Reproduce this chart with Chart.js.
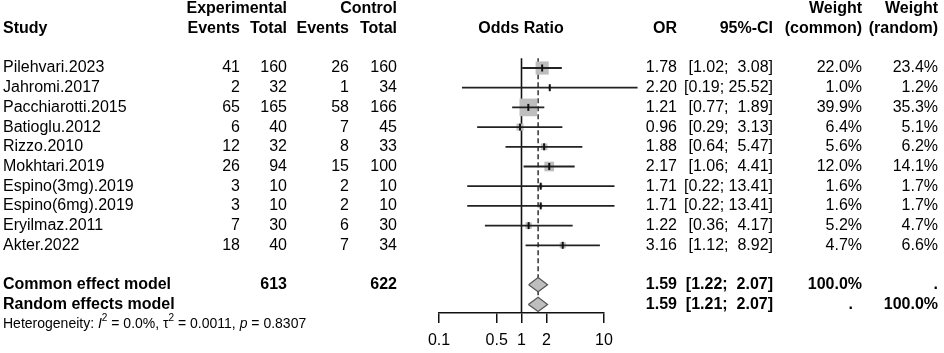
<!DOCTYPE html>
<html>
<head>
<meta charset="utf-8">
<script src="https://cdn.jsdelivr.net/npm/chart.js@4.4.1/dist/chart.umd.min.js"></script>
<style>
  html, body { margin: 0; padding: 0; background: #fff; }
  #wrap { width: 944px; height: 353px; }
</style>
</head>
<body>
<div id="wrap"><canvas id="forest" width="944" height="353"></canvas></div>
<script>
const studies = ["Pilehvari.2023", "Jahromi.2017", "Pacchiarotti.2015", "Batioglu.2012", "Rizzo.2010",
  "Mokhtari.2019", "Espino(3mg).2019", "Espino(6mg).2019", "Eryilmaz.2011", "Akter.2022"];
const expEvents = [41, 2, 65, 6, 12, 26, 3, 3, 7, 18];
const expTotal = [160, 32, 165, 40, 32, 94, 10, 10, 30, 40];
const ctrlEvents = [26, 1, 58, 7, 8, 15, 2, 2, 6, 7];
const ctrlTotal = [160, 34, 166, 45, 33, 100, 10, 10, 30, 34];
const oddsRatio = [1.78, 2.20, 1.21, 0.96, 1.88, 2.17, 1.71, 1.71, 1.22, 3.16];
const ciLow = [1.02, 0.19, 0.77, 0.29, 0.64, 1.06, 0.22, 0.22, 0.36, 1.12];
const ciHigh = [3.08, 25.52, 1.89, 3.13, 5.47, 4.41, 13.41, 13.41, 4.17, 8.92];
const weightCommon = [22.0, 1.0, 39.9, 6.4, 5.6, 12.0, 1.6, 1.6, 5.2, 4.7];
const weightRandom = [23.4, 1.2, 35.3, 5.1, 6.2, 14.1, 1.7, 1.7, 4.7, 6.6];

const modelNames = ["Common effect model", "Random effects model"];
const modelOR = [1.59, 1.59];
const modelLow = [1.22, 1.21];
const modelHigh = [2.07, 2.07];
const totalsExp = 613;
const totalsCtrl = 622;
const tickValues = [0.1, 0.5, 1, 2, 10];

// row positions (y scale units, one per line of the table)
const studyRows = studies.map((s, i) => i);
const modelRows = [11, 12];
const headerRows = [-3, -2];
const hetRow = 13;

// first study row at 68px, rows 19.7px apart, x axis line at 313px
const ROW0 = 68;
const ROWH = 19.7;
const AXIS_Y = 313;
const axisRow = (AXIS_Y - ROW0) / ROWH;

const FONT = "'Liberation Sans', Arial, sans-serif";
const grey = "#bebebe";
const lineCol = "#222";

// CI lines, one dataset per study
var datasets = [];
studies.forEach((s, i) => {
  datasets.push({
    type: "line",
    data: [{ x: ciLow[i], y: studyRows[i] }, { x: ciHigh[i], y: studyRows[i] }],
    borderColor: lineCol,
    borderWidth: 1.8,
    pointRadius: 0,
    clip: false,
    order: 2,
  });
});

// weight squares
datasets.push({
  type: "scatter",
  data: studies.map((s, i) => ({ x: oddsRatio[i], y: studyRows[i] })),
  pointStyle: "rect",
  pointRadius: weightCommon.map((w) => (2.8 * Math.sqrt(w)) / Math.SQRT2),
  backgroundColor: grey,
  borderWidth: 0,
  clip: false,
  order: 3,
});

// point estimate marks
datasets.push({
  type: "scatter",
  data: studies.map((s, i) => ({ x: oddsRatio[i], y: studyRows[i] })),
  pointStyle: "line",
  rotation: 90,
  pointRadius: 3.5,
  borderColor: "#111",
  borderWidth: 2,
  clip: false,
  order: 1,
});

// line of no effect and summary estimate line
datasets.push({
  type: "line",
  data: [{ x: 1, y: -0.5 }, { x: 1, y: axisRow }],
  borderColor: "#111",
  borderWidth: 1.6,
  pointRadius: 0,
  clip: false,
  order: 4,
});
datasets.push({
  type: "line",
  data: [{ x: modelOR[0], y: -0.5 }, { x: modelOR[0], y: 11.65 }],
  borderColor: "#222",
  borderWidth: 1.4,
  borderDash: [5, 3],
  pointRadius: 0,
  clip: false,
  order: 4,
});

// summary diamonds
modelNames.forEach((m, k) => {
  const r = modelRows[k];
  datasets.push({
    type: "line",
    data: [
      { x: modelLow[k], y: r },
      { x: modelOR[k], y: r - 0.36 },
      { x: modelHigh[k], y: r },
      { x: modelOR[k], y: r + 0.36 },
      { x: modelLow[k], y: r },
    ],
    borderColor: "#555",
    backgroundColor: grey,
    borderWidth: 1.2,
    fill: "shape",
    tension: 0,
    pointRadius: 0,
    clip: false,
    order: 0,
  });
});

function fmtPct(v) {
  return v.toFixed(1) + "%";
}

// R style interval text, upper bound padded to a common width
function fmtCI(lo, hi) {
  return "[" + lo.toFixed(2) + "; " + hi.toFixed(2).padStart(5, " ") + "]";
}

const tablePlugin = {
  id: "forestTable",
  afterDraw(chart) {
    const ctx = chart.ctx;
    const ys = chart.scales.y;
    const rowY = (r) => ys.getPixelForValue(r);
    ctx.save();
    ctx.fillStyle = "#000";
    ctx.textBaseline = "middle";

    function txt(s, x, r, align, bold) {
      ctx.font = (bold ? "bold " : "") + "16px " + FONT;
      ctx.textAlign = align;
      ctx.fillText(s, x, rowY(r));
    }

    // headers
    txt("Experimental", 287, headerRows[0], "right", true);
    txt("Control", 397, headerRows[0], "right", true);
    txt("Weight", 862, headerRows[0], "right", true);
    txt("Weight", 938, headerRows[0], "right", true);
    txt("Study", 3, headerRows[1], "left", true);
    txt("Events", 240, headerRows[1], "right", true);
    txt("Total", 287, headerRows[1], "right", true);
    txt("Events", 349, headerRows[1], "right", true);
    txt("Total", 397, headerRows[1], "right", true);
    txt("Odds Ratio", 521, headerRows[1], "center", true);
    txt("OR", 677, headerRows[1], "right", true);
    txt("95%-CI", 773, headerRows[1], "right", true);
    txt("(common)", 862, headerRows[1], "right", true);
    txt("(random)", 938, headerRows[1], "right", true);

    // studies
    studies.forEach((s, i) => {
      const r = studyRows[i];
      txt(s, 3, r, "left");
      txt(String(expEvents[i]), 240, r, "right");
      txt(String(expTotal[i]), 287, r, "right");
      txt(String(ctrlEvents[i]), 349, r, "right");
      txt(String(ctrlTotal[i]), 397, r, "right");
      txt(oddsRatio[i].toFixed(2), 677, r, "right");
      txt(fmtCI(ciLow[i], ciHigh[i]), 773, r, "right");
      txt(fmtPct(weightCommon[i]), 862, r, "right");
      txt(fmtPct(weightRandom[i]), 938, r, "right");
    });

    // summary rows
    modelNames.forEach((m, k) => {
      const r = modelRows[k];
      txt(m, 3, r, "left", true);
      txt(modelOR[k].toFixed(2), 677, r, "right", true);
      txt(fmtCI(modelLow[k], modelHigh[k]), 773, r, "right", true);
    });
    txt(String(totalsExp), 287, modelRows[0], "right", true);
    txt(String(totalsCtrl), 397, modelRows[0], "right", true);
    txt("100.0%", 862, modelRows[0], "right", true);
    txt(".", 938, modelRows[0], "right", true);
    txt(".", 853, modelRows[1], "right", true);
    txt("100.0%", 938, modelRows[1], "right", true);

    // heterogeneity line
    const hy = rowY(hetRow);
    let x = 3;
    ctx.textAlign = "left";
    function piece(s, style, dy) {
      ctx.font = style + FONT;
      ctx.fillText(s, x, hy + (dy || 0));
      x += ctx.measureText(s).width;
    }
    piece("Heterogeneity: ", "14px ");
    piece("I", "italic 14px ");
    piece("2", "10px ", -6);
    piece(" = 0.0%, \u03c4", "14px ");
    piece("2", "10px ", -6);
    piece(" = 0.0011, ", "14px ");
    piece("p", "italic 14px ");
    piece(" = 0.8307", "14px ");
    ctx.restore();
  },
};

var forest = new Chart(document.getElementById("forest"), {
  type: "scatter",
  data: { datasets: datasets },
  options: {
    responsive: false,
    animation: false,
    layout: { autoPadding: false, padding: { left: 439, right: 340, top: 0, bottom: 0 } },
    plugins: { legend: { display: false }, tooltip: { enabled: false } },
    scales: {
      x: {
        type: "logarithmic",
        min: 0.1,
        max: 10,
        afterBuildTicks: (scale) => {
          scale.ticks = tickValues.map((v) => ({ value: v }));
        },
        ticks: {
          color: "#000",
          font: { family: FONT, size: 16 },
          padding: 8,
          maxRotation: 0,
          autoSkip: false,
          callback: (value) => String(value),
        },
        grid: { drawOnChartArea: false, drawTicks: true, tickLength: 10, color: "#111", lineWidth: 1.5 },
        border: { display: true, color: "#111", width: 1.5 },
      },
      y: {
        type: "linear",
        reverse: true,
        min: -3.45,
        max: 12.44,
        display: false,
      },
    },
  },
  plugins: [tablePlugin],
});

// put the x axis line at AXIS_Y and map the rows onto the final chart area
var area = forest.chartArea;
forest.options.layout.padding.bottom += area.bottom - AXIS_Y;
forest.update();
area = forest.chartArea;
forest.options.scales.y.min = (area.top - ROW0) / ROWH;
forest.options.scales.y.max = (area.bottom - ROW0) / ROWH;
forest.update();
</script>
</body>
</html>
